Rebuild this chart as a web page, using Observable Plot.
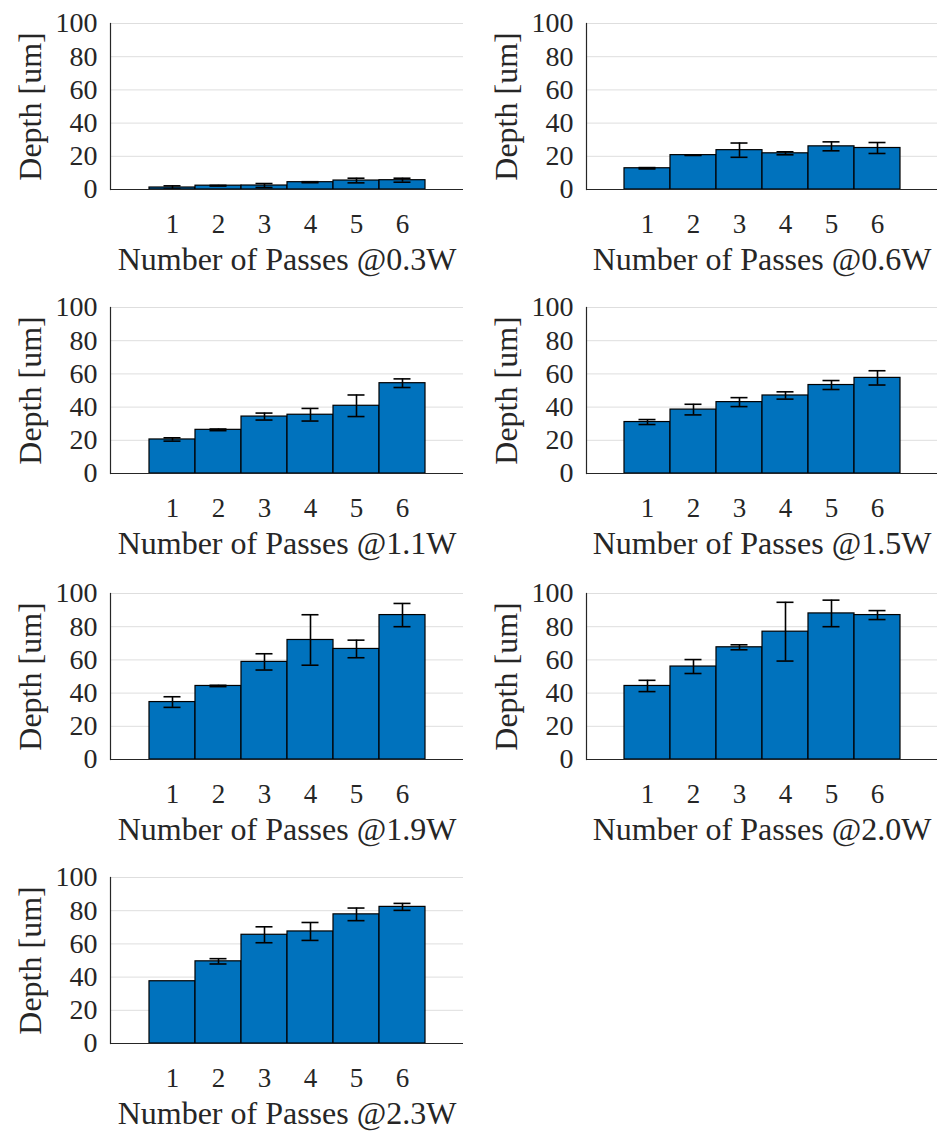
<!DOCTYPE html>
<html><head><meta charset="utf-8">
<script src="https://cdn.jsdelivr.net/npm/d3@7"></script>
<script src="https://cdn.jsdelivr.net/npm/@observablehq/plot@0.6"></script>
<style>
body{margin:0;background:#fff;width:938px;height:1131px;overflow:hidden;position:relative;}
.panel{position:absolute;}
svg, svg text{font-family:'Liberation Serif','Times New Roman',serif !important;}
</style></head><body>
<script>
// ---- data ----
const passes = [1, 2, 3, 4, 5, 6];
const yTicks = [0, 20, 40, 60, 80, 100];
const labels = ["0.3W", "0.6W", "1.1W", "1.5W", "1.9W", "2.0W", "2.3W"];
const depth03 = [1.2, 2.3, 2.4, 4.4, 5.4, 5.6];
const err03   = [1.0, 0.2, 1.2, 0.3, 1.4, 1.2];
const depth06 = [12.8, 20.7, 23.7, 21.8, 26.0, 25.0];
const err06   = [0.4, 0.2, 4.3, 0.9, 2.7, 3.3];
const depth11 = [20.5, 26.3, 34.3, 35.4, 40.8, 54.4];
const err11   = [1.0, 0.5, 2.1, 3.8, 6.5, 2.6];
const depth15 = [31.0, 38.5, 43.0, 47.0, 53.3, 57.6];
const err15   = [1.5, 3.2, 2.7, 2.2, 2.7, 4.3];
const depth19 = [34.6, 44.3, 58.8, 72.0, 66.6, 87.0];
const err19   = [3.2, 0.4, 4.9, 15.2, 5.3, 7.0];
const depth20 = [44.3, 56.0, 67.6, 77.0, 88.0, 87.0];
const err20   = [3.4, 4.2, 1.5, 17.7, 8.0, 2.7];
const depth23 = [37.5, 49.5, 65.5, 67.5, 77.8, 82.3];
const err23   = [0.0, 1.6, 4.8, 5.4, 3.8, 2.1];

const series = [
  [depth03, err03], [depth06, err06], [depth11, err11], [depth15, err15],
  [depth19, err19], [depth20, err20], [depth23, err23]
];

// ---- layout ----
const rowTops = [1, 285, 571, 855];
const colLefts = [0, 476];
const colWidths = [469, 462];
const colRight = [6, 1];
const FONT = "'Liberation Serif', 'Times New Roman', serif";
const TXT = "#262626";

series.forEach(([depth, err], k) => {
  const row = Math.floor(k / 2), col = k % 2;
  const data = passes.map((p, i) => ({pass: p, depth: depth[i], lo: depth[i] - err[i], hi: depth[i] + err[i]}));
  const withErr = data.filter(d => d.hi > d.lo);
  const chart = Plot.plot({
    width: colWidths[col],
    height: 284,
    marginLeft: 110,
    marginRight: colRight[col],
    marginTop: 22,
    marginBottom: 96,
    style: {fontFamily: FONT, fontSize: "27px", color: TXT, background: "transparent", overflow: "visible"},
    x: {domain: passes, paddingInner: 0, paddingOuter: 0.763, align: 0.5, label: null},
    y: {domain: [0, 100], label: null},
    marks: [
      Plot.gridY(yTicks, {stroke: "#dedede", strokeOpacity: 1, strokeWidth: 1}),
      Plot.barY(data, {x: "pass", y: "depth", fill: "#0072BD", stroke: "#000", strokeWidth: 1.2}),
      Plot.ruleX(withErr, {x: "pass", y1: "lo", y2: "hi", stroke: "#000", strokeWidth: 1.6}),
      Plot.tickY(withErr, {x: "pass", y: "lo", stroke: "#000", strokeWidth: 1.6, insetLeft: 14.5, insetRight: 14.5}),
      Plot.tickY(withErr, {x: "pass", y: "hi", stroke: "#000", strokeWidth: 1.6, insetLeft: 14.5, insetRight: 14.5}),
      Plot.ruleY([0], {stroke: TXT, strokeWidth: 1.2}),
      Plot.frame({anchor: "left", stroke: TXT, strokeWidth: 1.2}),
      Plot.axisY({ticks: yTicks, tickSize: 0, tickPadding: 13, label: null, fontSize: 28, fill: TXT, fontFamily: FONT}),
      Plot.axisX({tickSize: 0, tickPadding: 24, label: null, fontSize: 27, fill: TXT, fontFamily: FONT}),
      Plot.text(["Depth [um]"], {text: d => d, frameAnchor: "left", rotate: -90, dx: -80, textAnchor: "middle", lineAnchor: "middle", fontSize: 32, fill: TXT, fontFamily: FONT}),
      Plot.text(["Number of Passes @" + labels[k]], {text: d => d, frameAnchor: "bottom", dy: 58, textAnchor: "middle", lineAnchor: "top", fontSize: 32, fill: TXT, fontFamily: FONT})
    ]
  });
  const div = document.createElement("div");
  div.className = "panel";
  div.style.left = colLefts[col] + "px";
  div.style.top = rowTops[row] + "px";
  div.appendChild(chart);
  document.body.appendChild(div);
});
</script>
</body></html>
